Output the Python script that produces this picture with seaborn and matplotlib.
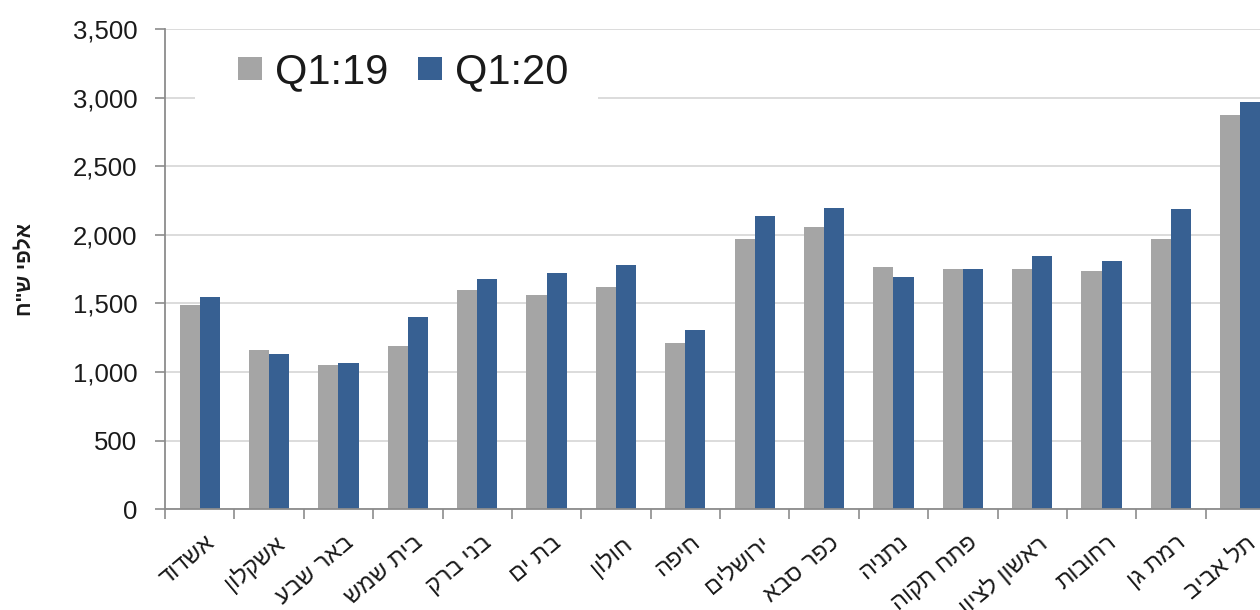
import numpy as np
import pandas as pd
import matplotlib
matplotlib.use("Agg")
import matplotlib.pyplot as plt
from matplotlib.patches import Rectangle
from matplotlib.transforms import ScaledTranslation
import seaborn as sns
from matplotlib.ticker import FuncFormatter

# ---- data ----
cities = ["אשדוד", "אשקלון", "באר שבע", "בית שמש", "בני ברק", "בת ים", "חולון", "חיפה",
          "ירושלים", "כפר סבא", "נתניה", "פתח תקוה", "ראשון לציון", "רחובות", "רמת גן", "תל אביב"]
q1_19 = [1490, 1160, 1050, 1190, 1595, 1560, 1620, 1215, 1970, 2060, 1765, 1750, 1750, 1740, 1970, 2870]
q1_20 = [1550, 1130, 1065, 1400, 1675, 1725, 1780, 1305, 2140, 2195, 1690, 1750, 1845, 1810, 2185, 2965]
series = ["Q1:19", "Q1:20"]
colors = ["#A5A5A5", "#376092"]
y_label = 'אלפי ש"ח'
y_ticks = [0, 500, 1000, 1500, 2000, 2500, 3000, 3500]


def rtl(s):
    # matplotlib has no bidi support: reverse to display right-to-left text correctly
    return s[::-1]


df = pd.DataFrame({
    "city": cities * 2,
    "period": [series[0]] * len(cities) + [series[1]] * len(cities),
    "value": q1_19 + q1_20,
})

sns.set_style("white")
plt.rcParams["font.family"] = ["Liberation Sans", "DejaVu Sans"]

fig = plt.figure(figsize=(12.6, 6.1), dpi=100)
ax = fig.add_axes([165 / 1260, 1 - 509.3 / 610, 1110 / 1260, 480.3 / 610])

sns.barplot(data=df, x="city", y="value", hue="period", order=cities, hue_order=series,
            palette=colors, width=0.58, gap=0, saturation=1, linewidth=0,
            errorbar=None, ax=ax)

axis_col = "#8C8C8C"
txt_col = "#1A1A1A"
ax.set_ylim(0, 3500)
ax.set_xlim(-0.5, len(cities) - 0.5)
ax.set_yticks(y_ticks)
ax.yaxis.set_major_formatter(FuncFormatter(lambda v, p: f"{int(v):,}"))
ax.yaxis.grid(True, color="#D9D9D9", linewidth=1.3)
ax.set_axisbelow(True)
for s in ["top", "right"]:
    ax.spines[s].set_visible(False)
for s in ["left", "bottom"]:
    ax.spines[s].set_color(axis_col)
    ax.spines[s].set_linewidth(1.3)

ax.tick_params(axis="y", length=7, width=1.2, color=axis_col, direction="out",
               pad=13, labelsize=18.5, labelcolor=txt_col, left=True)
ax.set_xticks(range(len(cities)))
ax.set_xticklabels([rtl(c) for c in cities], rotation=40, ha="right", va="top",
                   rotation_mode="anchor", fontsize=17, color=txt_col)
ax.tick_params(axis="x", which="major", length=0, pad=16)
shift = ScaledTranslation(5 / 100, 0, fig.dpi_scale_trans)
for lab in ax.get_xticklabels():
    lab.set_transform(lab.get_transform() + shift)
ax.set_xticks(np.arange(-0.5, len(cities), 1), minor=True)
ax.tick_params(axis="x", which="minor", length=7, width=1.2, color=axis_col,
               direction="out", bottom=True)

ax.set_xlabel("")
ax.set_ylabel(rtl(y_label), fontsize=15, fontweight="bold", color=txt_col)
ax.yaxis.set_label_coords(-0.117, 0.5)

# white backing behind the legend (hides the gridline there, as in the reference)
ax.add_patch(Rectangle((0.027, 0.842), 0.363, 0.135, transform=ax.transAxes,
                       facecolor="white", edgecolor="none", zorder=0.8))

handles, labels = ax.get_legend_handles_labels()
ax.legend(handles, labels, loc="center", bbox_to_anchor=(0.2144, 0.9095), ncol=2,
          fontsize=30, frameon=False, handlelength=0.58, handleheight=0.45,
          handletextpad=0.3, columnspacing=0.72, borderpad=0.2,
          labelcolor=txt_col)

fig.savefig("out.png", dpi=100)
